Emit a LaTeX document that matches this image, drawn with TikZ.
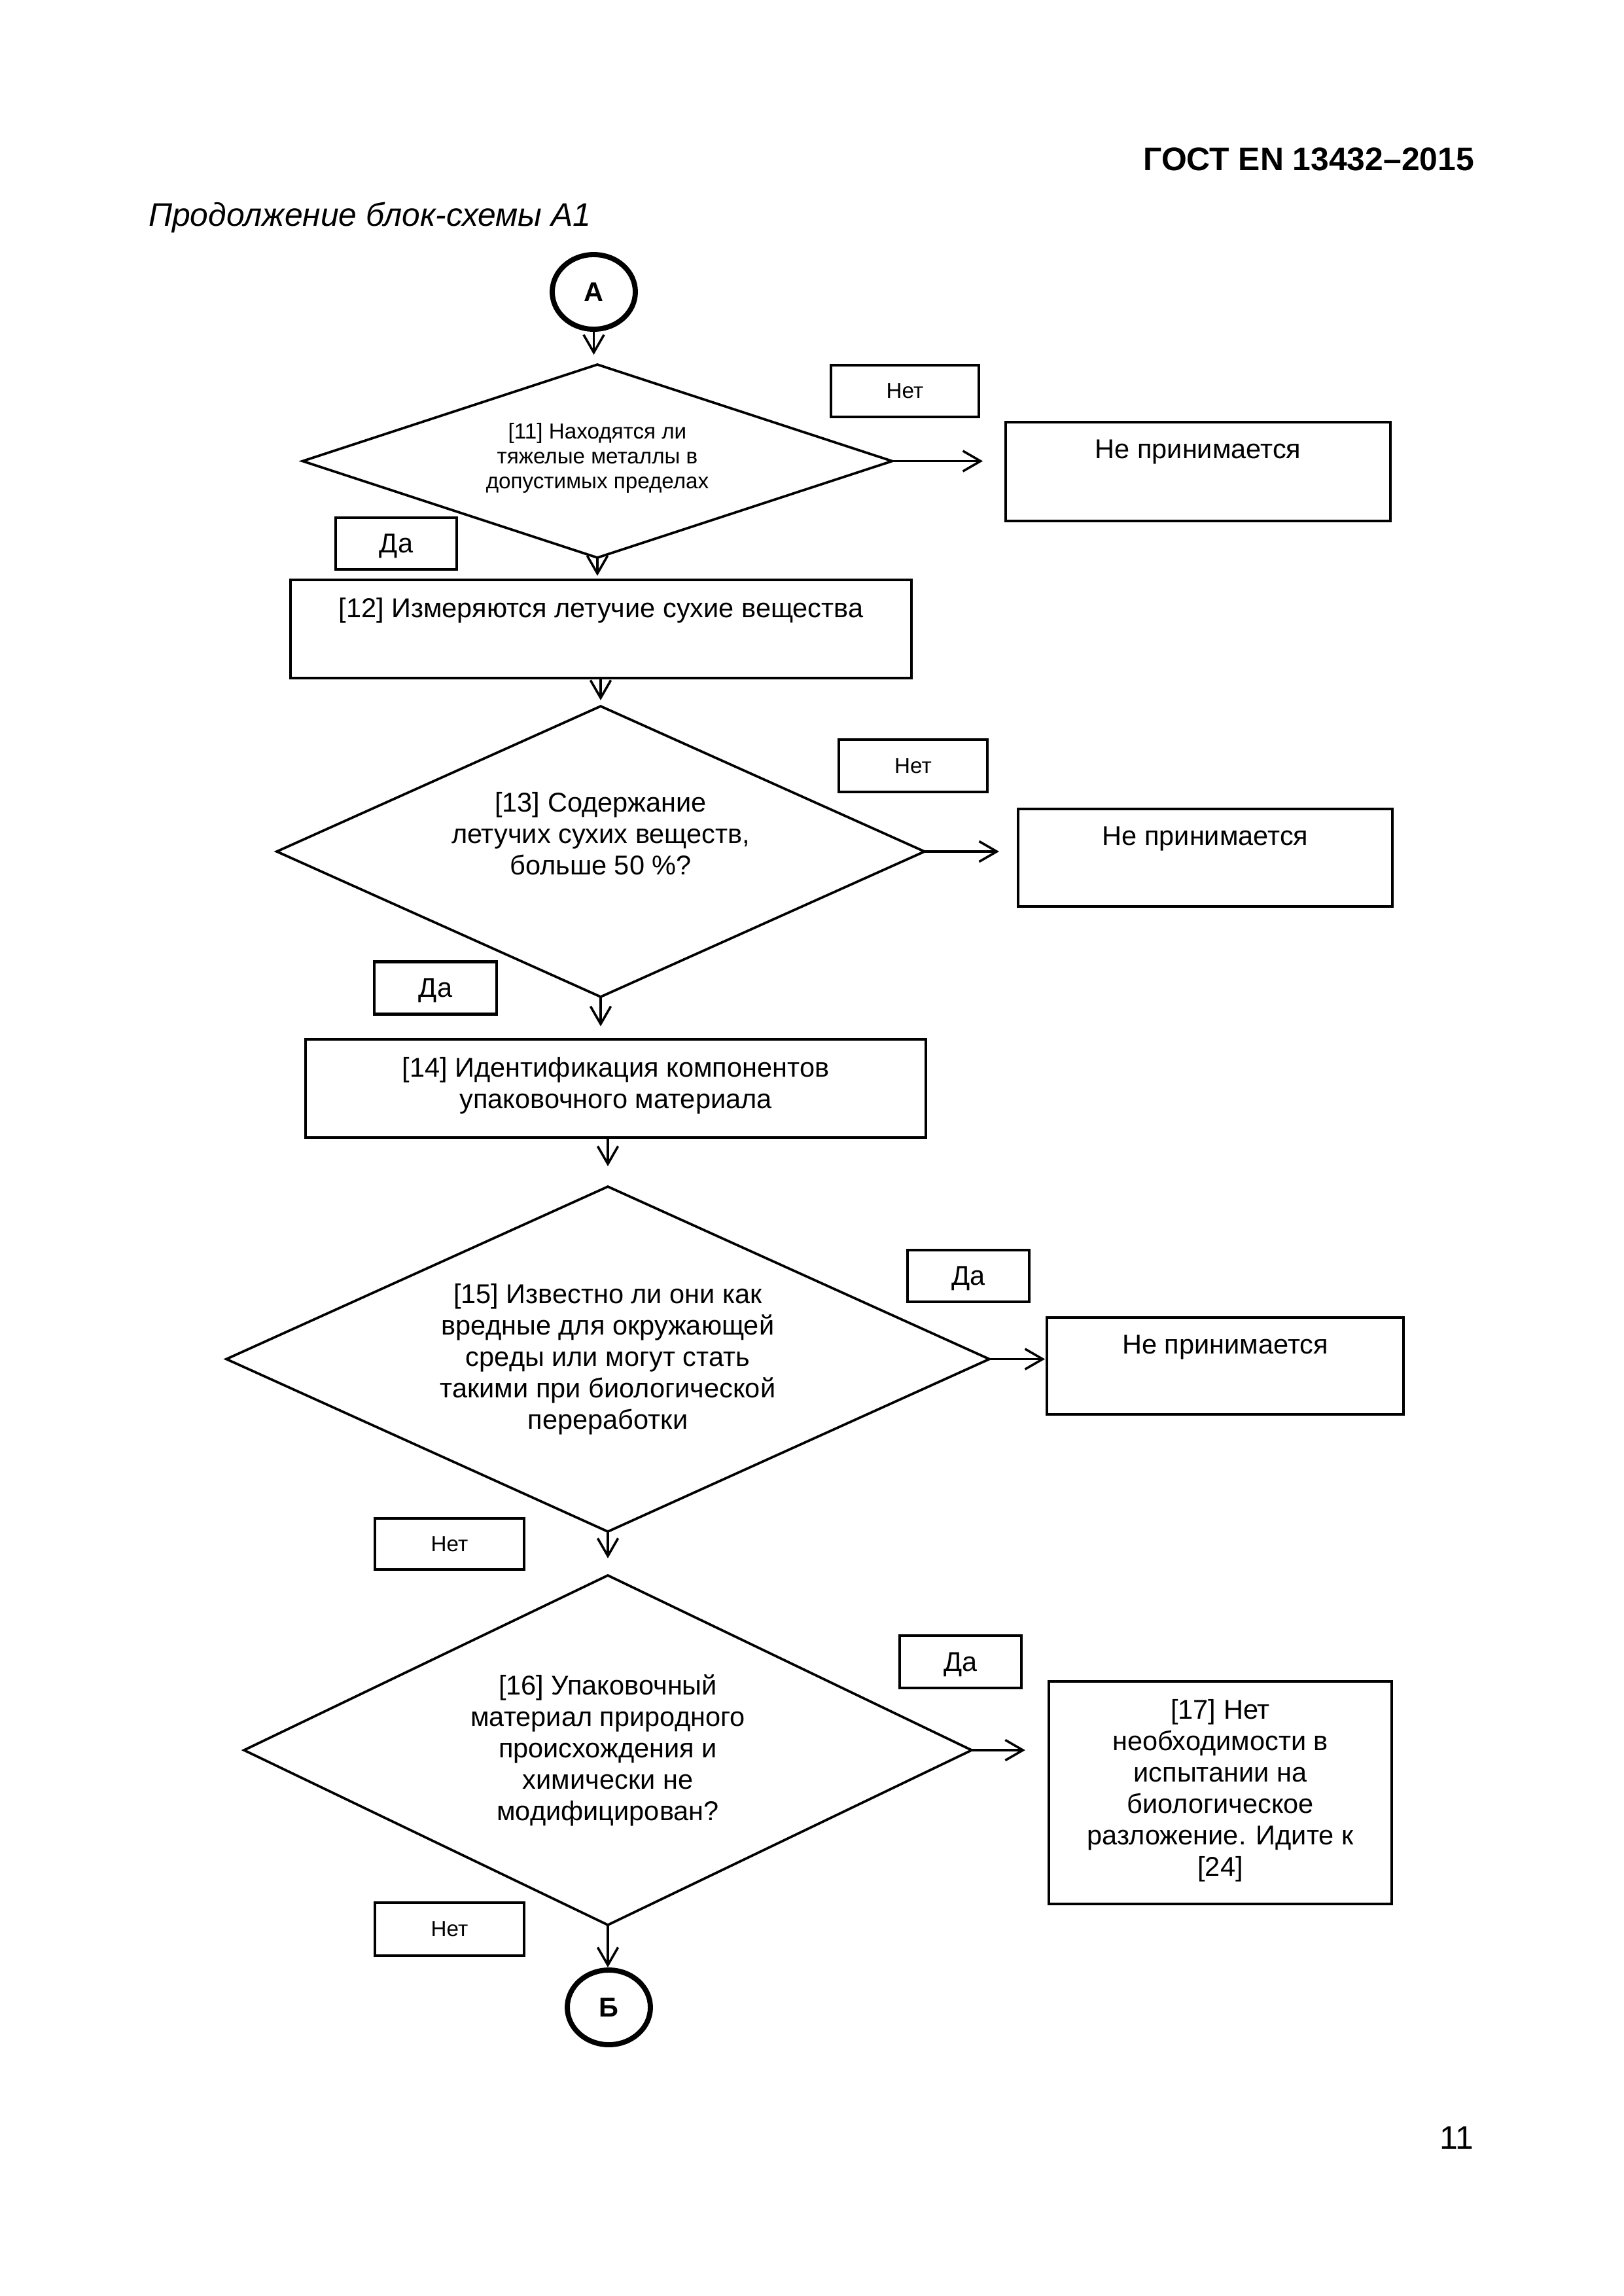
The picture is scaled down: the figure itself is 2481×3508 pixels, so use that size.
\documentclass[tikz,border=0pt]{standalone}
\usepackage{fontspec}
\setmainfont{Liberation Sans}
\usetikzlibrary{shapes.geometric,arrows.meta}
\begin{document}
\begin{tikzpicture}[x=0.08464mm,y=-0.08464mm,
  every node/.style={inner sep=0pt,outer sep=0pt},
  dia/.style={diamond,draw,line width=0.9pt,aspect=2},
  box/.style={rectangle,draw,line width=1pt},
  tag/.style={rectangle,draw,line width=1pt,text depth=0pt,font=\fontsize{10}{11.5}\selectfont},
  tagsmall/.style={tag,font=\fontsize{8}{9.2}\selectfont},
  conn/.style={ellipse,draw,line width=1.9pt,minimum width=10.75mm,minimum height=9.65mm,font=\bfseries\fontsize{10}{12}\selectfont},
  txt/.style={align=center,font=\fontsize{10}{11.56}\selectfont},
  txts/.style={align=center,font=\fontsize{8}{9.15}\selectfont},
  toptxt/.style={txt,anchor=north,yshift=-6.5pt},
  arr/.style={line width=0.85pt,-{Straight Barb[length=6.5pt,width=7.5pt]}},
]
\useasboundingbox (0,0) rectangle (2481,3508);

% header texts
\node[anchor=base east,font=\bfseries\fontsize{12}{14}\selectfont] (hdr) at (2253,260) {ГОСТ EN 13432–2015};
\node[anchor=base west,font=\itshape\fontsize{12}{14}\selectfont] (cap) at (227,345) {Продолжение блок-схемы А1};
\node[anchor=base east,font=\fontsize{12}{14}\selectfont] (pg) at (2252,3283) {11};

% connectors
\node[conn] (A) at (907.5,446) {А};
\node[conn] (B) at (930.5,3067) {Б};

% decisions
\node[dia,minimum width=76.26mm,minimum height=24.97mm,
  label={[txts,yshift=1.1pt]center:{[11] Находятся ли\\тяжелые металлы в\\допустимых пределах}}] (d11) at (913,704.5) {};
\node[dia,minimum width=83.79mm,minimum height=37.58mm,
  label={[txt,yshift=6.7pt]center:{[13] Содержание\\летучих сухих веществ,\\больше 50 \%?}}] (d13) at (918,1301) {};
\node[dia,minimum width=98.69mm,minimum height=44.61mm,
  label={[txt]center:{[15] Известно ли они как\\вредные для окружающей\\среды или могут стать\\такими при биологической\\переработки}}] (d15) at (929,2076.5) {};
\node[dia,minimum width=94.12mm,minimum height=45.20mm,
  label={[txt]center:{[16] Упаковочный\\материал природного\\происхождения и\\химически не\\модифицирован?}}] (d16) at (929,2674) {};

% process boxes
\node[box,minimum width=80.32mm,minimum height=12.70mm,
  label={[toptxt]north:{[12] Измеряются летучие сухие вещества}}] (box12) at (918.5,961) {};
\node[box,minimum width=80.24mm,minimum height=12.70mm,
  label={[toptxt]north:{[14] Идентификация компонентов\\упаковочного материала}}] (box14) at (941,1663) {};
\node[box,minimum width=49.77mm,minimum height=12.78mm,
  label={[toptxt]north:{Не принимается}}] (no1) at (1831,720.5) {};
\node[box,minimum width=48.41mm,minimum height=12.61mm,
  label={[toptxt]north:{Не принимается}}] (no2) at (1842,1310.5) {};
\node[box,minimum width=46.13mm,minimum height=12.53mm,
  label={[toptxt]north:{Не принимается}}] (no3) at (1872.5,2087) {};
\node[box,minimum width=44.35mm,minimum height=28.78mm,
  label={[toptxt]north:{[17] Нет\\необходимости в\\испытании на\\биологическое\\разложение. Идите к\\{}[24]}}] (box17) at (1865,2739) {};

% yes/no tags
\node[tagsmall,minimum width=19.13mm,minimum height=6.69mm] (net1) at (1383,597.5) {Нет};
\node[tag,minimum width=15.66mm,minimum height=6.69mm] (da1) at (605.5,830.5) {Да};
\node[tagsmall,minimum width=19.21mm,minimum height=6.77mm] (net2) at (1395.5,1170) {Нет};
\node[tag,minimum width=15.83mm,minimum height=6.77mm] (da2) at (665.5,1509.5) {Да};
\node[tag,minimum width=15.74mm,minimum height=6.69mm] (da3) at (1480,1949.5) {Да};
\node[tagsmall,minimum width=19.30mm,minimum height=6.60mm] (net3) at (687,2359) {Нет};
\node[tag,minimum width=15.74mm,minimum height=6.77mm] (da4) at (1468,2539) {Да};
\node[tagsmall,minimum width=19.30mm,minimum height=6.86mm] (net4) at (687,2947.5) {Нет};

% arrows
\draw[arr,shorten >=3.6pt] (A.south) -- (A.south |- d11.north);
\draw[arr,shorten >=1.5pt] (d11.south) -- (d11.south |- box12.north);
\draw[arr,shorten >=2.2pt] (d13.north |- box12.south) -- (d13.north);
\draw[arr,shorten >=4.8pt] (d13.south) -- (d13.south |- box14.north);
\draw[arr,shorten >=7.5pt] (d15.north |- box14.south) -- (d15.north);
\draw[arr,shorten >=6.3pt] (d15.south) -- (d15.south |- d16.north);
\draw[arr,shorten >=1pt] (d16.south) -- (d16.south |- B.north);
\draw[arr,shorten >=8.4pt] (d11.east) -- (d11.east -| no1.west);
\draw[arr,shorten >=7pt] (d13.east) -- (d13.east -| no2.west);
\draw[arr,shorten >=0.7pt] (d15.east) -- (d15.east -| no3.west);
\draw[arr,shorten >=8.7pt] (d16.east) -- (d16.east -| box17.west);
\end{tikzpicture}
\end{document}
